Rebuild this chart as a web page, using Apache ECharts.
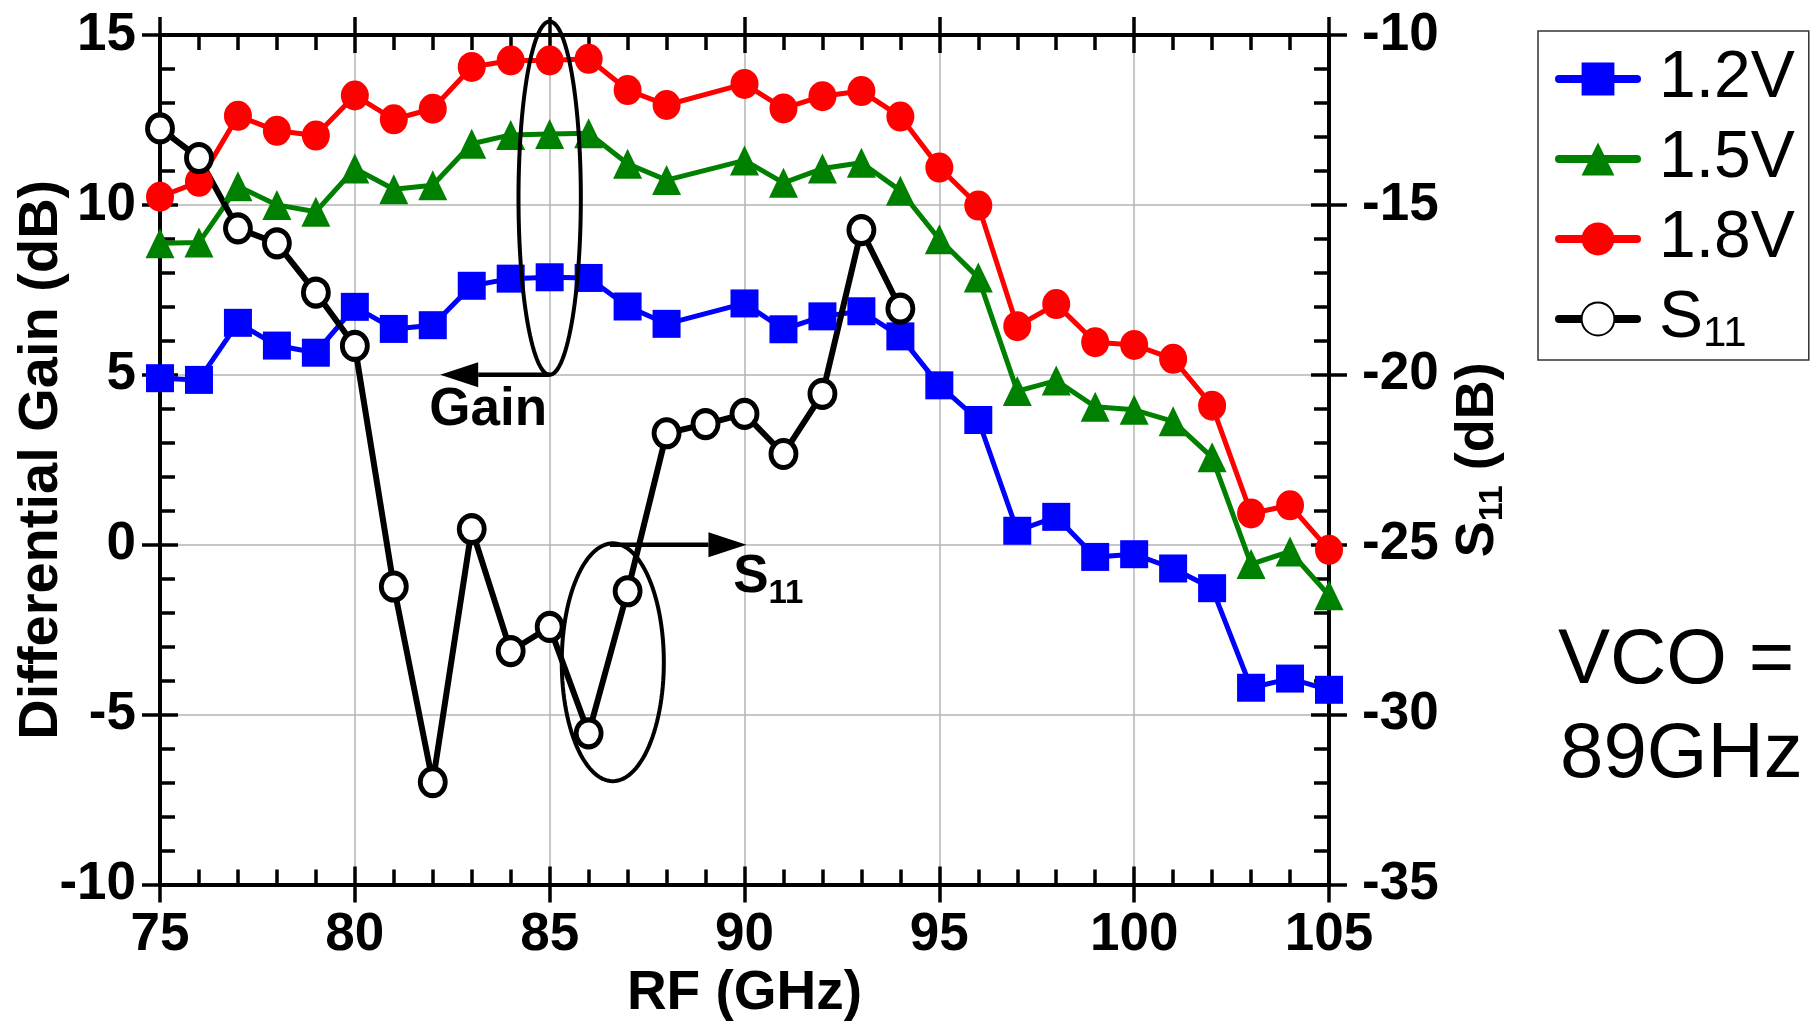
<!DOCTYPE html>
<html>
<head>
<meta charset="utf-8">
<script src="https://cdn.jsdelivr.net/npm/echarts@6.0.0/dist/echarts.min.js"></script>
<style>
html,body{margin:0;padding:0;background:#fff;}
#c{width:1820px;height:1026px;}
</style>
</head>
<body>
<div id="c"></div>
<script>
// ---------------- data ----------------
const seriesNames = ['1.2V', '1.5V', '1.8V', 'S11'];
const freqGain = [75,76,77,78,79,80,81,82,83,84,85,86,87,88,90,91,92,93,94,95,96,97,98,99,100,101,102,103,104,105];
const gain12 = [4.9,4.85,6.53,5.86,5.65,7.0,6.35,6.46,7.62,7.83,7.87,7.85,7.01,6.5,7.1,6.34,6.72,6.87,6.13,4.69,3.67,0.41,0.82,-0.36,-0.28,-0.7,-1.28,-4.21,-3.94,-4.27];
const gain15 = [8.87,8.89,10.55,10.0,9.8,11.07,10.46,10.58,11.8,12.06,12.09,12.11,11.21,10.73,11.31,10.65,11.07,11.24,10.42,8.99,7.86,4.52,4.83,4.06,3.97,3.63,2.57,-0.57,-0.2,-1.49];
const gain18 = [10.24,10.68,12.62,12.18,12.04,13.22,12.52,12.83,14.06,14.25,14.25,14.3,13.38,12.94,13.56,12.84,13.2,13.35,12.6,11.1,9.98,6.43,7.08,5.96,5.88,5.47,4.09,0.92,1.16,-0.15];
const freqS11 = [75,76,77,78,79,80,81,82,83,84,85,86,87,88,89,90,91,92,93,94];
const s11 = [-12.75,-13.62,-15.69,-16.13,-17.58,-19.15,-26.23,-31.99,-24.54,-28.13,-27.42,-30.55,-26.37,-21.72,-21.45,-21.15,-22.33,-20.56,-15.74,-18.05];

const xRange = [75, 105, 5];
const gainRange = [-10, 15, 5];
const s11Range = [-35, -10, 5];

// annotations (in data units of the x axis / gain axis)
const gainEllipse = {cx: 85, cy: 10.2, rx: 0.8, ry: 5.2};
const s11Ellipse = {cx: 86.62, cy: -3.46, rx: 1.31, ry: 3.5};
const gainArrow = {x0: 85, y0: 5, x1: 82.19, y1: 5};
const s11Arrow = {x0: 86.55, y0: 0, x1: 90.05, y1: 0};
const gainText = {x: 83.42, y: 3.96, text: 'Gain'};
const s11Text = {x: 89.71, y: -1.54};
const vcoLines = ['VCO =', '89GHz'];

// ---------------- chart ----------------
const FF = "'Liberation Sans', Arial, Helvetica, sans-serif";
const BLACK = '#000';
const pairs = (xs, ys) => xs.map((x, i) => [x, ys[i]]);

function baseAxis(range) {
  return {type: 'value', min: range[0], max: range[1], interval: range[2]};
}
const tickMain = {show: true, inside: true, length: 18, lineStyle: {color: BLACK, width: 3.5}};
const tickOut = {show: true, inside: false, length: 18, lineStyle: {color: BLACK, width: 3.5}};
const minor = {show: true, splitNumber: 5, length: 15, lineStyle: {color: BLACK, width: 3.5}};
const axLine = {show: true, onZero: false, lineStyle: {color: BLACK, width: 4}};
const noLine = {show: false, onZero: false};
const grid = {lineStyle: {color: '#b4b4b4', width: 1.5}};
const labelStyle = {fontSize: 53, fontWeight: 'bold', fontFamily: FF, color: BLACK};

const option = {
  animation: false,
  backgroundColor: '#fff',
  grid: {left: 160, right: 491, top: 35, bottom: 141.5, containLabel: false, outerBoundsMode: 'none'},
  xAxis: [
    Object.assign(baseAxis(xRange), {position: 'bottom', axisLine: axLine, axisTick: tickMain, minorTick: minor,
      splitLine: Object.assign({show: true}, grid),
      axisLabel: Object.assign({margin: 24}, labelStyle),
      name: 'RF (GHz)', nameLocation: 'middle', nameGap: 82, nameMoveOverlap: false,
      nameTextStyle: {fontSize: 55, fontWeight: 'bold', fontFamily: FF, color: BLACK}}),
    Object.assign(baseAxis(xRange), {position: 'bottom', axisLine: noLine, axisTick: tickOut,
      splitLine: {show: false}, axisLabel: {show: false}}),
    Object.assign(baseAxis(xRange), {position: 'top', axisLine: axLine, axisTick: tickMain, minorTick: minor,
      splitLine: {show: false}, axisLabel: {show: false}}),
    Object.assign(baseAxis(xRange), {position: 'top', axisLine: noLine, axisTick: tickOut,
      splitLine: {show: false}, axisLabel: {show: false}})
  ],
  yAxis: [
    Object.assign(baseAxis(gainRange), {position: 'left', axisLine: axLine, axisTick: tickMain, minorTick: minor,
      splitLine: Object.assign({show: true}, grid),
      axisLabel: Object.assign({margin: 24}, labelStyle),
      name: 'Differential Gain (dB)', nameLocation: 'middle', nameGap: 90, nameRotate: 90, nameMoveOverlap: false,
      nameTextStyle: {fontSize: 56, fontWeight: 'bold', fontFamily: FF, color: BLACK}}),
    Object.assign(baseAxis(gainRange), {position: 'left', axisLine: noLine, axisTick: tickOut,
      splitLine: {show: false}, axisLabel: {show: false}}),
    Object.assign(baseAxis(s11Range), {position: 'right', axisLine: axLine, axisTick: tickMain, minorTick: minor,
      splitLine: {show: false},
      axisLabel: Object.assign({margin: 33}, labelStyle),
      name: '{a|S}{b|11}{a| (dB)}', nameLocation: 'middle', nameGap: 122, nameRotate: 90, nameMoveOverlap: false,
      nameTextStyle: {color: BLACK, rich: {
        a: {fontSize: 54, fontWeight: 'bold', fontFamily: FF, color: BLACK, lineHeight: 54, verticalAlign: 'top'},
        b: {fontSize: 34, fontWeight: 'bold', fontFamily: FF, color: BLACK, lineHeight: 34, verticalAlign: 'top', padding: [25, 0, 0, 0]}
      }}}),
    Object.assign(baseAxis(s11Range), {position: 'right', axisLine: noLine, axisTick: tickOut,
      splitLine: {show: false}, axisLabel: {show: false}})
  ],
  legend: {
    orient: 'vertical', left: 1538, top: 31,
    padding: [15, 14, 5, 17], itemGap: 14, itemWidth: 78, itemHeight: 41,
    borderColor: '#333', borderWidth: 1.5, backgroundColor: '#fff',
    data: seriesNames,
    lineStyle: {width: 8, cap: 'round'},
    formatter: n => n === 'S11' ? '{a|S}{b|11}' : '{a|' + n + '}',
    textStyle: {color: BLACK, padding: [0, 0, 0, 17], rich: {
      a: {fontSize: 66, fontFamily: FF, color: BLACK, lineHeight: 66, verticalAlign: 'top'},
      b: {fontSize: 42, fontFamily: FF, color: BLACK, lineHeight: 42, verticalAlign: 'top', padding: [27, 0, 0, 0]}
    }}
  },
  series: [
    {name: seriesNames[0], type: 'line', xAxisIndex: 0, yAxisIndex: 0, data: pairs(freqGain, gain12),
     symbol: 'rect', symbolSize: 28, lineStyle: {color: '#0000ff', width: 5}, itemStyle: {color: '#0000ff'}},
    {name: seriesNames[1], type: 'line', xAxisIndex: 0, yAxisIndex: 0, data: pairs(freqGain, gain15),
     symbol: 'triangle', symbolSize: [29, 30], lineStyle: {color: '#008000', width: 5}, itemStyle: {color: '#008000'}},
    {name: seriesNames[2], type: 'line', xAxisIndex: 0, yAxisIndex: 0, data: pairs(freqGain, gain18),
     symbol: 'circle', symbolSize: [28, 30], lineStyle: {color: '#ff0000', width: 5}, itemStyle: {color: '#ff0000'}},
    {name: seriesNames[3], type: 'line', xAxisIndex: 0, yAxisIndex: 2, data: pairs(freqS11, s11),
     symbol: 'circle', symbolSize: [25, 27], showAllSymbol: true,
     lineStyle: {color: BLACK, width: 6}, itemStyle: {color: '#fff', borderColor: BLACK, borderWidth: 5}}
  ]
};

const chart = echarts.init(document.getElementById('c'), null, {renderer: 'canvas'});
chart.setOption(option);

// ---------------- annotations via the chart's own scales ----------------
function px(x, y) { return chart.convertToPixel({xAxisIndex: 0, yAxisIndex: 0}, [x, y]); }
function ellipseEl(e) {
  const c = px(e.cx, e.cy), r = px(e.cx + e.rx, e.cy + e.ry);
  const rx = Math.abs(r[0] - c[0]), ry = Math.abs(r[1] - c[1]);
  const pts = [];
  for (let i = 0; i < 120; i++) {
    const t = i / 120 * Math.PI * 2;
    pts.push([c[0] + rx * Math.cos(t), c[1] + ry * Math.sin(t)]);
  }
  return {type: 'polygon', z: 100, shape: {points: pts}, style: {fill: 'none', stroke: BLACK, lineWidth: 4}};
}
function arrowEls(a) {
  const p0 = px(a.x0, a.y0), p1 = px(a.x1, a.y1);
  const dx = p1[0] - p0[0], dy = p1[1] - p0[1], L = Math.hypot(dx, dy);
  const ux = dx / L, uy = dy / L, hl = 38, hw = 12.5;
  const b = [p1[0] - ux * hl, p1[1] - uy * hl];
  return [
    {type: 'polyline', z: 100, shape: {points: [p0, b]}, style: {stroke: BLACK, lineWidth: 4.5, fill: 'none'}},
    {type: 'polygon', z: 100, shape: {points: [p1, [b[0] - uy * hw, b[1] + ux * hw], [b[0] + uy * hw, b[1] - ux * hw]]},
     style: {fill: BLACK}}
  ];
}
const gp = px(gainText.x, gainText.y);
const sp = px(s11Text.x, s11Text.y);
const graphics = [
  ellipseEl(gainEllipse), ellipseEl(s11Ellipse),
  ...arrowEls(gainArrow), ...arrowEls(s11Arrow),
  {type: 'text', z: 100, x: gp[0], y: gp[1], style: {text: gainText.text, font: 'bold 53px ' + FF, fill: BLACK, align: 'center', verticalAlign: 'middle'}},
  {type: 'text', z: 100, x: sp[0], y: sp[1] - 46, style: {text: '{a|S}{b|11}', align: 'left', verticalAlign: 'top',
    rich: {
      a: {font: 'bold 53px ' + FF, fill: BLACK, lineHeight: 54, verticalAlign: 'top'},
      b: {font: 'bold 33px ' + FF, fill: BLACK, lineHeight: 33, verticalAlign: 'top', padding: [26, 0, 0, 0]}
    }}},
  {type: 'text', z: 100, left: 1558, top: 622, style: {text: vcoLines[0], font: '78px ' + FF, fill: BLACK}},
  {type: 'text', z: 100, left: 1560, top: 716, style: {text: vcoLines[1], font: '78px ' + FF, fill: BLACK}}
];
chart.setOption({graphic: graphics});
</script>
</body>
</html>
